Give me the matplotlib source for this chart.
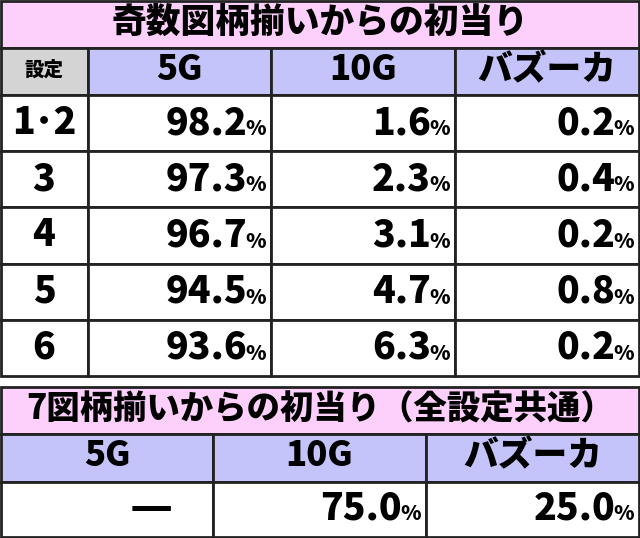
import matplotlib.pyplot as plt
from matplotlib.patches import Rectangle

plt.rcParams["font.family"] = ["Noto Sans CJK JP", "DejaVu Sans"]

# データ
title1 = "奇数図柄揃いからの初当り"
headers1 = ["設定", "5G", "10G", "バズーカ"]
settings = ["1･2", "3", "4", "5", "6"]
rate_5g = ["98.2", "97.3", "96.7", "94.5", "93.6"]
rate_10g = ["1.6", "2.3", "3.1", "4.7", "6.3"]
rate_bz = ["0.2", "0.4", "0.2", "0.8", "0.2"]

title2 = "7図柄揃いからの初当り（全設定共通）"
headers2 = ["5G", "10G", "バズーカ"]
row2 = ["—", "75.0", "25.0"]

pink = "#fdd0fb"
lav = "#c4c4fa"
grey = "#d4d4d4"
edge = "#222222"
W = "black"

fig = plt.figure(figsize=(6.4, 5.38), dpi=100)
ax = fig.add_axes([0, 0, 1, 1])
ax.set_xlim(0, 640)
ax.set_ylim(538, 0)
ax.axis("off")


def cell(x0, x1, y0, y1, fc):
    ax.add_patch(Rectangle((x0, y0), x1 - x0, y1 - y0, facecolor=fc,
                           edgecolor=edge, linewidth=2))


def pct(x1, yc, val):
    if val == "—":
        ax.text(x1 - 40, yc, "—", ha="right", va="center", fontsize=34,
                fontweight=W)
        return
    ax.text(x1 - 24, yc, val, ha="right", va="center", fontsize=27,
            fontweight=W)
    ax.text(x1 - 5, yc + 6, "%", ha="right", va="center", fontsize=15,
            fontweight=W)


# 上の表
cols1 = [1, 88, 271, 455, 639]
cell(1, 639, 1, 48, pink)
ax.text(320, 22, title1, ha="center", va="center", fontsize=25, fontweight=W)
for i, h in enumerate(headers1):
    cell(cols1[i], cols1[i + 1], 48, 95, grey if i == 0 else lav)
    ax.text((cols1[i] + cols1[i + 1]) / 2, 70, h, ha="center", va="center",
            fontsize=14 if i == 0 else 25, fontweight=W)
rh = (376 - 95) / len(settings)
for r, s in enumerate(settings):
    y0 = 95 + r * rh
    y1 = y0 + rh
    yc = (y0 + y1) / 2
    for i in range(4):
        cell(cols1[i], cols1[i + 1], y0, y1, "white")
    ax.text(44, yc, s, ha="center", va="center", fontsize=27, fontweight=W)
    pct(cols1[2], yc, rate_5g[r])
    pct(cols1[3], yc, rate_10g[r])
    pct(cols1[4], yc, rate_bz[r])

# 下の表
cols2 = [1, 213, 426, 639]
cell(1, 639, 387, 434, pink)
ax.text(320, 409, title2, ha="center", va="center", fontsize=24, fontweight=W)
for i, h in enumerate(headers2):
    cell(cols2[i], cols2[i + 1], 434, 482, lav)
    ax.text((cols2[i] + cols2[i + 1]) / 2, 456, h, ha="center", va="center",
            fontsize=25, fontweight=W)
for i, v in enumerate(row2):
    cell(cols2[i], cols2[i + 1], 482, 537, "white")
    pct(cols2[i + 1], 508, v)

fig.savefig("out.png", dpi=100)
